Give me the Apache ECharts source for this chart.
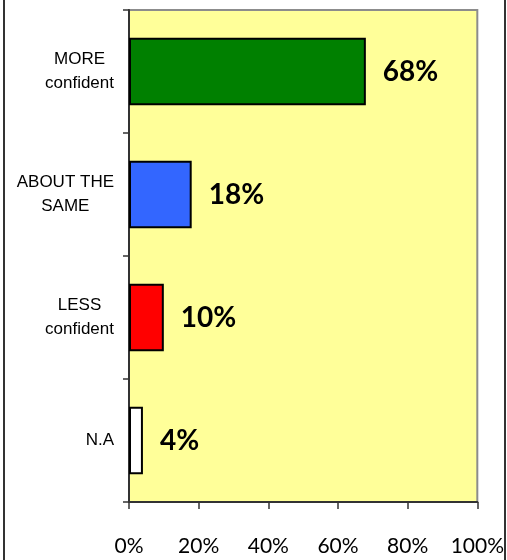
<!DOCTYPE html>
<html>
<head>
<meta charset="utf-8">
<script src="https://cdn.jsdelivr.net/npm/echarts@6/dist/echarts.min.js"></script>
<style>
  html, body { margin: 0; padding: 0; background: #ffffff; }
  #chart { width: 507px; height: 560px; }
</style>
</head>
<body>
<div id="chart"></div>
<script>
const categories = ['MORE\nconfident', 'ABOUT THE\nSAME', 'LESS\nconfident', 'N.A'];
const values = [68, 18, 10, 4];
const barColors = ['#008000', '#3366FF', '#FF0000', '#FFFFFF'];
const xTicks = [0, 20, 40, 60, 80, 100];

const chart = echarts.init(document.getElementById('chart'), null, { renderer: 'canvas' });

const option = {
  animation: false,
  backgroundColor: '#ffffff',
  grid: {
    left: 129, top: 10, width: 349, height: 492,
    show: true, backgroundColor: '#FFFF99', borderColor: '#8c8c8c', borderWidth: 2
  },
  xAxis: {
    type: 'value', min: xTicks[0], max: xTicks[xTicks.length - 1], interval: 20,
    axisLine: { show: true, lineStyle: { color: '#333333', width: 2 } },
    axisTick: { show: true, length: 7, lineStyle: { color: '#333333', width: 1.5 } },
    splitLine: { show: false },
    axisLabel: {
      margin: 34, formatter: v => v + '%',
      fontFamily: 'Lato', fontSize: 21, color: '#000000'
    }
  },
  yAxis: {
    type: 'category', data: categories, inverse: true,
    axisLine: { show: true, lineStyle: { color: '#333333', width: 2 } },
    axisTick: { show: true, length: 6, lineStyle: { color: '#333333', width: 1.5 } },
    axisLabel: {
      margin: 15,
      formatter: v => v.split('\n').map(s => '{c|' + s + '}').join('\n'),
      rich: {
        c: { align: 'center', fontFamily: 'Liberation Sans', fontSize: 17, lineHeight: 24, color: '#000000' }
      }
    }
  },
  series: [{
    type: 'bar',
    barCategoryGap: '45%',
    data: values.map((v, i) => ({ value: v, itemStyle: { color: barColors[i] } })),
    itemStyle: { borderColor: '#000000', borderWidth: 2 },
    label: {
      show: true, position: 'right', distance: 17,
      formatter: p => p.value + '%',
      fontFamily: 'Lato', fontWeight: 'bold', fontSize: 28, color: '#000000'
    }
  }],
  graphic: [
    { type: 'line', shape: { x1: 4, y1: 0, x2: 4, y2: 560 }, style: { stroke: '#333333', lineWidth: 2 } },
    { type: 'line', shape: { x1: 505, y1: 0, x2: 505, y2: 560 }, style: { stroke: '#333333', lineWidth: 2 } }
  ]
};

chart.setOption(option);
</script>
</body>
</html>
